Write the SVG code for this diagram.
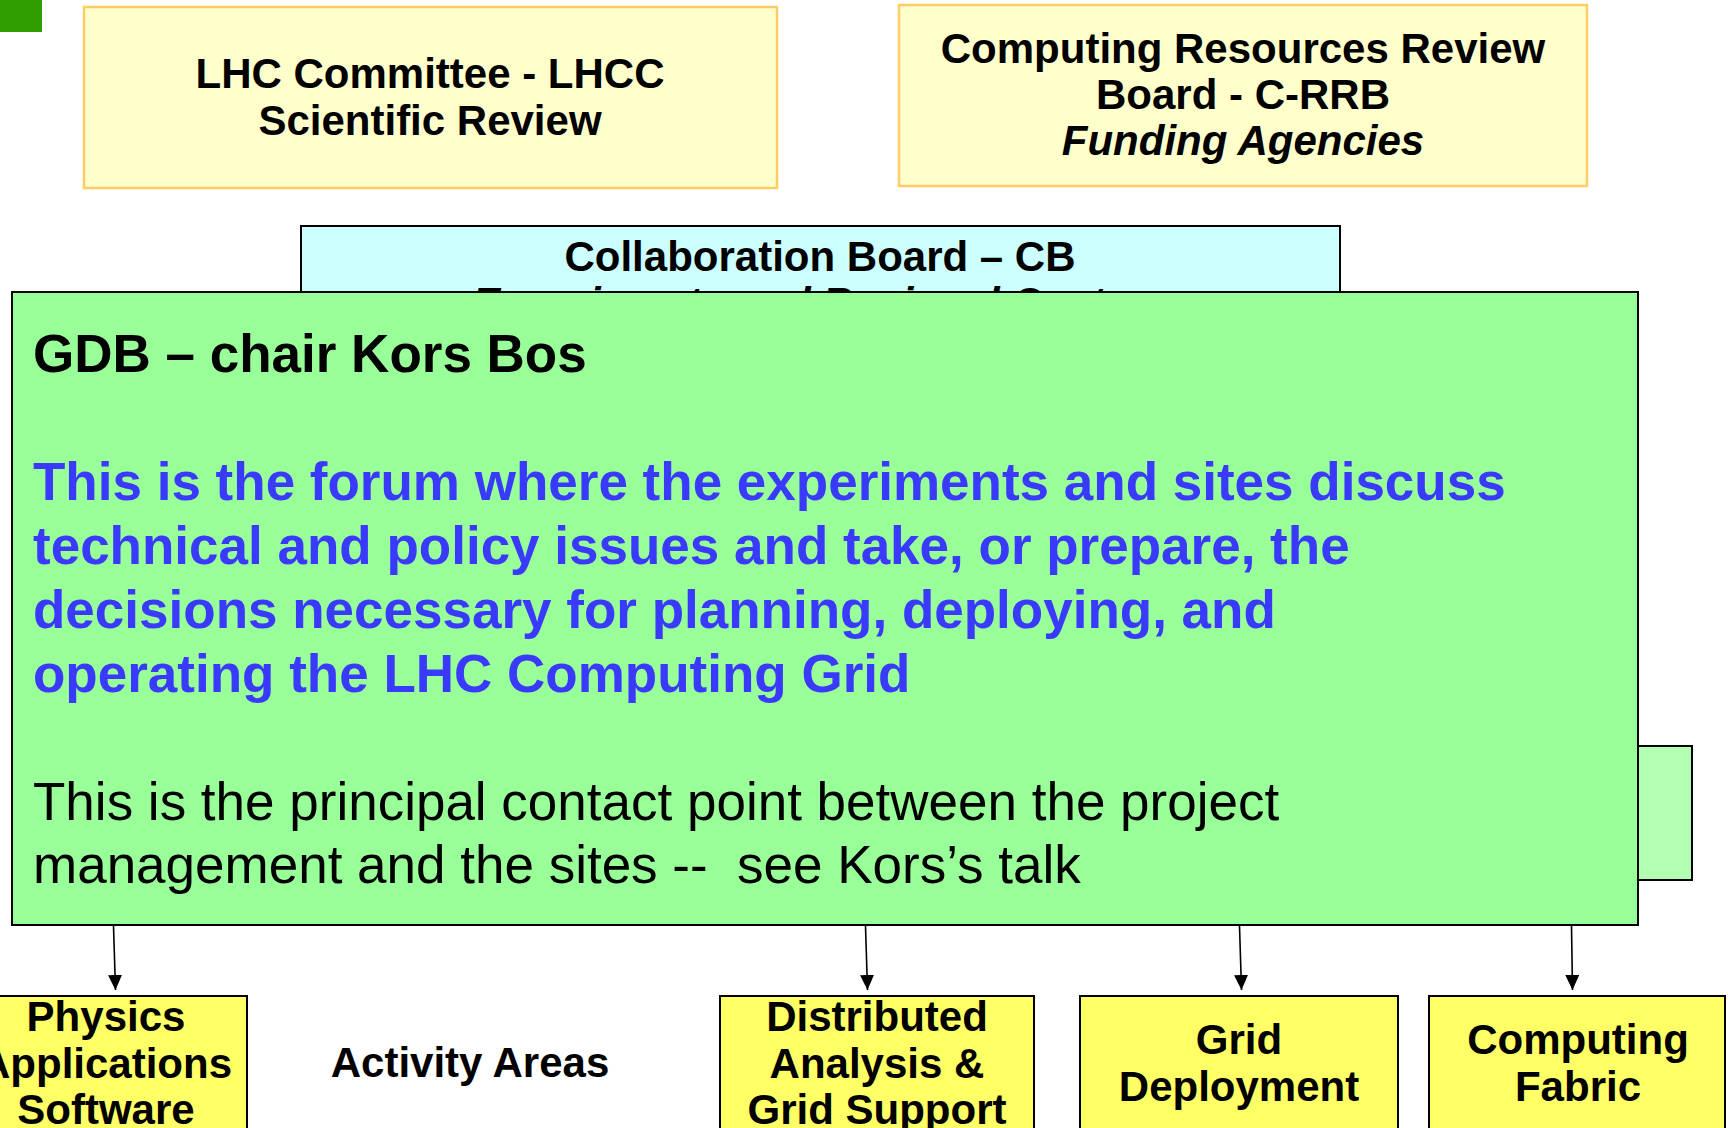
<svg xmlns="http://www.w3.org/2000/svg" width="1728" height="1128" viewBox="0 0 1728 1128">
  <defs>
    <marker id="arrow" viewBox="0 0 15 14" refX="15" refY="7" markerWidth="15" markerHeight="14" markerUnits="userSpaceOnUse" orient="auto">
      <path d="M0,0 L15,7 L0,14 Z" fill="#000"/>
    </marker>
    <style>
      text { font-family: "Liberation Sans", Arial, sans-serif; font-weight: bold; fill: #000; }
      .review { fill: #ffffcc; stroke: #ffcc66; stroke-width: 2.5; }
      .board { fill: #ccffff; stroke: #000; stroke-width: 2; }
      .gdb { fill: #99ff99; stroke: #000; stroke-width: 2; }
      .side { fill: #b3ffb3; stroke: #000; stroke-width: 2; }
      .area { fill: #ffff66; stroke: #000; stroke-width: 2; }
      .t42 { font-size: 42px; text-anchor: middle; }
      .t53 { font-size: 53px; }
      .blue { fill: #3a3aff; }
      .plain { font-weight: normal; }
      .conn line { stroke: #000; stroke-width: 1.6; fill: none; }
    </style>
  </defs>

  <rect x="0" y="0" width="42" height="32" fill="#2f9e00"/>

  <g id="lhcc">
    <rect class="review" x="84" y="7" width="693" height="181"/>
    <text class="t42" x="430" y="88">LHC Committee - LHCC</text>
    <text class="t42" x="430" y="135">Scientific Review</text>
  </g>

  <g id="crrb">
    <rect class="review" x="899" y="5" width="688" height="181"/>
    <text class="t42" x="1243" y="63">Computing Resources Review</text>
    <text class="t42" x="1243" y="109">Board - C-RRB</text>
    <text class="t42" x="1243" y="155" font-style="italic">Funding Agencies</text>
  </g>

  <g id="cb">
    <rect class="board" x="301" y="226" width="1039" height="120"/>
    <text class="t42" x="820" y="271">Collaboration Board – CB</text>
    <text class="t42" x="820" y="317" font-style="italic">Experiments and Regional Centres</text>
  </g>

  <g id="side-box">
    <rect class="side" x="1560" y="746" width="132" height="134"/>
  </g>

  <g id="gdb">
    <rect class="gdb" x="12" y="292" width="1626" height="633"/>
    <text class="t53" x="33" y="372">GDB – chair Kors Bos</text>
    <text class="t53 blue" x="33" y="500">This is the forum where the experiments and sites discuss</text>
    <text class="t53 blue" x="33" y="564">technical and policy issues and take, or prepare, the</text>
    <text class="t53 blue" x="33" y="628">decisions necessary for planning, deploying, and</text>
    <text class="t53 blue" x="33" y="692">operating the LHC Computing Grid</text>
    <text class="t53 plain" x="33" y="820">This is the principal contact point between the project</text>
    <text class="t53 plain" x="33" y="883" xml:space="preserve">management and the sites --  see Kors’s talk</text>
  </g>

  <g id="connectors" class="conn">
    <line x1="113.5" y1="926" x2="115.5" y2="990" marker-end="url(#arrow)"/>
    <line x1="865.5" y1="926" x2="867.5" y2="990" marker-end="url(#arrow)"/>
    <line x1="1239.5" y1="926" x2="1241.5" y2="990" marker-end="url(#arrow)"/>
    <line x1="1571.5" y1="926" x2="1572.5" y2="990" marker-end="url(#arrow)"/>
  </g>

  <g id="physics">
    <rect class="area" x="-35" y="996" width="282" height="150"/>
    <text class="t42" x="106" y="1031">Physics</text>
    <text class="t42" x="106" y="1078">Applications</text>
    <text class="t42" x="106" y="1124">Software</text>
  </g>

  <g id="activity-label">
    <text class="t42" x="470" y="1077">Activity Areas</text>
  </g>

  <g id="distributed">
    <rect class="area" x="720" y="996" width="314" height="150"/>
    <text class="t42" x="877" y="1031">Distributed</text>
    <text class="t42" x="877" y="1078">Analysis &amp;</text>
    <text class="t42" x="877" y="1124">Grid Support</text>
  </g>

  <g id="grid-deployment">
    <rect class="area" x="1080" y="996" width="318" height="150"/>
    <text class="t42" x="1239" y="1054">Grid</text>
    <text class="t42" x="1239" y="1101">Deployment</text>
  </g>

  <g id="computing-fabric">
    <rect class="area" x="1429" y="996" width="296" height="150"/>
    <text class="t42" x="1578" y="1054">Computing</text>
    <text class="t42" x="1578" y="1101">Fabric</text>
  </g>
</svg>
